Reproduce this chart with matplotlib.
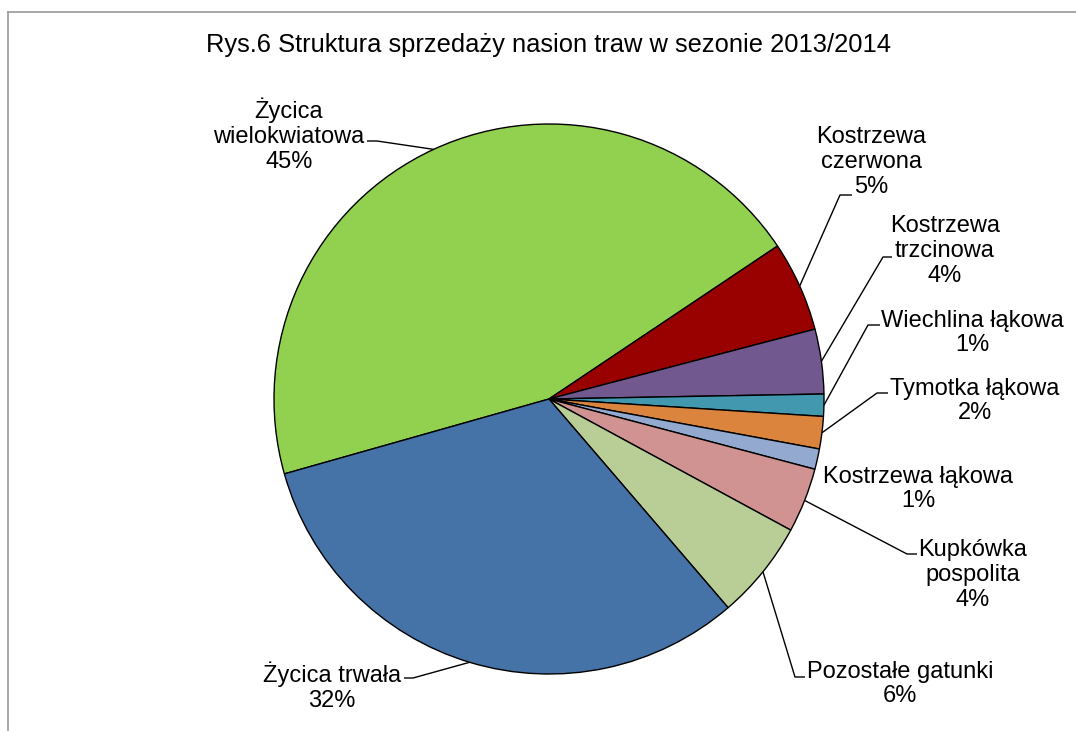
import numpy as np
import matplotlib
matplotlib.use('Agg')
import matplotlib.pyplot as plt

W, H = 1076, 731

# dane
labels = ['Życica\nwielokwiatowa\n45%', 'Kostrzewa\nczerwona\n5%', 'Kostrzewa\ntrzcinowa\n4%',
          'Wiechlina łąkowa\n1%', 'Tymotka łąkowa\n2%', 'Kostrzewa łąkowa\n1%',
          'Kupkówka\npospolita\n4%', 'Pozostałe gatunki\n6%', 'Życica trwała\n32%']
values = [45.0, 5.3, 3.8, 1.3, 1.9, 1.2, 3.8, 5.8, 31.9]
colors = ['#92D050', '#990000', '#71588F', '#4198AF', '#DB843D',
          '#93A9CF', '#D19392', '#B9CD96', '#4572A7']

# label positions (pixels, from top) and leader stub: (text end, elbow)
text_pos = [(289, 135), (871, 162), (945, 251), (972, 333), (975, 401),
            (918, 489), (973, 575), (900, 684), (332, 687)]
stubs = [((367, 141), (377, 141)), ((852, 195), (840, 195)), ((892, 257), (883, 257)),
         ((880, 325), (868, 325)), ((888, 393), (877, 393)), None,
         ((917, 554), (907, 554)), ((805, 677), (795, 677)), ((404, 678), (413, 678))]

cx, cy, r = 549, 399, 275

def fy(y):
    return H - y

plt.rcParams['font.family'] = ['Liberation Sans', 'DejaVu Sans']

fig = plt.figure(figsize=(W / 100, H / 100), dpi=100)
ax = fig.add_axes([0, 0, 1, 1])

wedges, _ = ax.pie(values, colors=colors, startangle=195.8, counterclock=False,
                   center=(cx, fy(cy)), radius=r,
                   wedgeprops=dict(edgecolor='black', linewidth=1.0))
ax.set_xlim(0, W)
ax.set_ylim(0, H)
ax.set_aspect('equal')
ax.axis('off')

for w, lab, (tx, ty), st in zip(wedges, labels, text_pos, stubs):
    ax.text(tx, fy(ty), lab, ha='center', va='center', fontsize=17,
            linespacing=1.16, color='black')
    if st is None:
        continue
    mid = np.deg2rad((w.theta1 + w.theta2) / 2)
    px, py = cx + r * np.cos(mid), fy(cy) + r * np.sin(mid)
    (x1, y1), (x2, y2) = st
    ax.plot([x1, x2, px], [fy(y1), fy(y2), py], color='black', lw=1.0,
            solid_capstyle='butt')

ax.text(549, fy(45), 'Rys.6 Struktura sprzedaży nasion traw w sezonie 2013/2014',
        ha='center', va='center', fontsize=18.4)

# chart frame (cut off at right and bottom)
ax.plot([8, W + 5], [fy(12), fy(12)], color='#A0A0A0', lw=1.3)
ax.plot([8, 8], [fy(12), -5], color='#A0A0A0', lw=1.3)

fig.savefig('out.png', dpi=100)
